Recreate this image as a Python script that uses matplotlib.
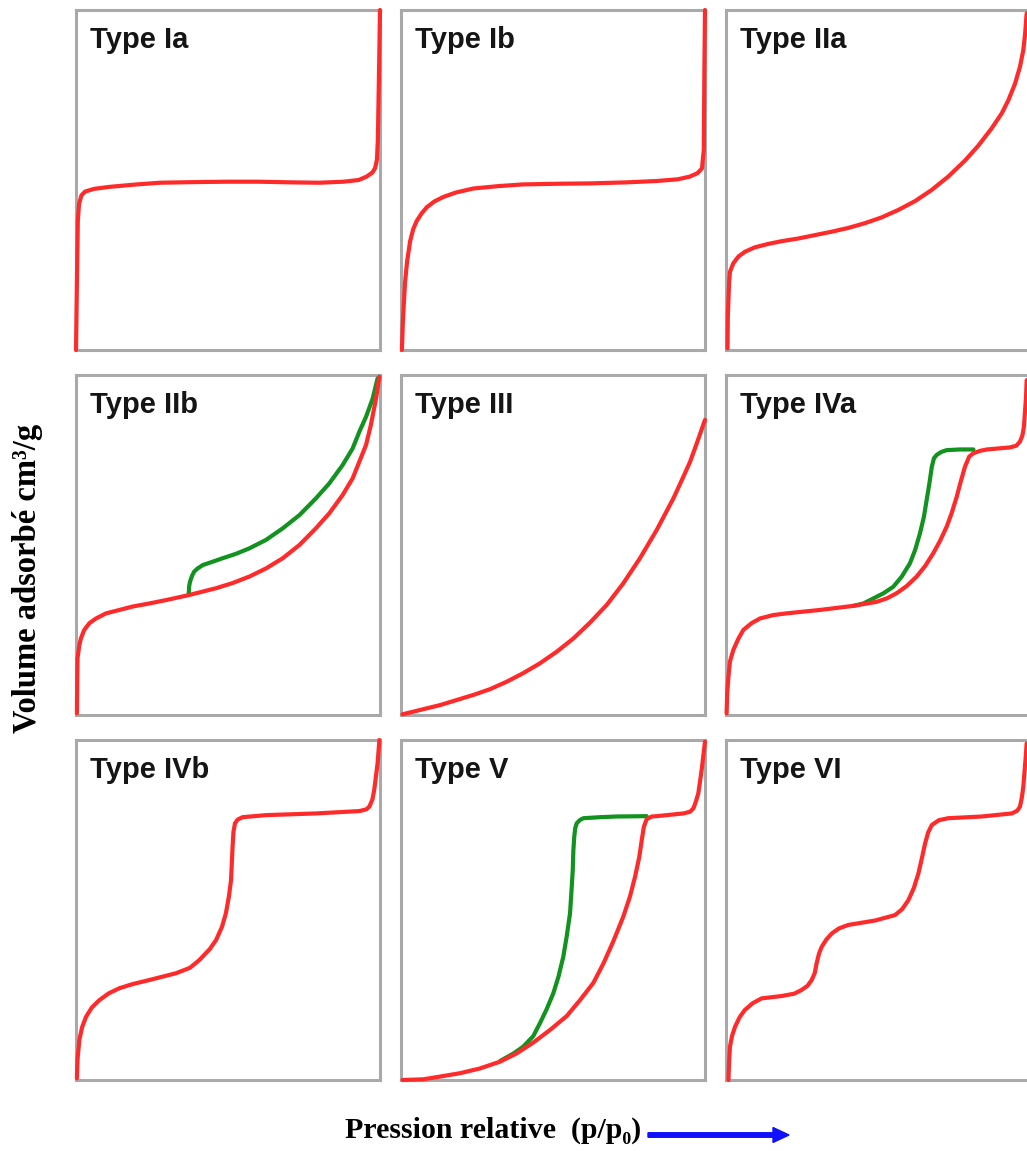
import matplotlib.pyplot as plt
from matplotlib.patches import FancyArrow

# isotherm curves, in relative units (0..1) of each panel
ia_x = [0, 0.003, 0.006, 0.01, 0.018, 0.03, 0.06, 0.112, 0.2, 0.276, 0.4, 0.496, 0.6, 0.714, 0.8, 0.88, 0.93, 0.956, 0.975, 0.984, 0.99, 0.993, 0.997, 1.0]
ia_y = [0, 0.2, 0.38, 0.43, 0.455, 0.466, 0.474, 0.48, 0.487, 0.492, 0.494, 0.495, 0.495, 0.493, 0.492, 0.495, 0.50, 0.51, 0.522, 0.535, 0.56, 0.62, 0.83, 1.0]

ib_x = [0.003, 0.006, 0.013, 0.02, 0.03, 0.04, 0.052, 0.068, 0.085, 0.11, 0.139, 0.18, 0.238, 0.32, 0.40, 0.52, 0.62, 0.74, 0.84, 0.91, 0.95, 0.975, 0.99, 0.996, 0.998, 1.0]
ib_y = [0, 0.08, 0.196, 0.26, 0.32, 0.355, 0.38, 0.402, 0.42, 0.437, 0.45, 0.463, 0.475, 0.482, 0.487, 0.489, 0.49, 0.493, 0.497, 0.502, 0.51, 0.52, 0.534, 0.588, 0.83, 1.0]

iia_x = [0.005, 0.006, 0.01, 0.013, 0.024, 0.041, 0.0625, 0.095, 0.139, 0.183, 0.238, 0.293, 0.348, 0.402, 0.457, 0.512, 0.567, 0.622, 0.677, 0.731, 0.786, 0.830, 0.874, 0.907, 0.929, 0.951, 0.967, 0.978, 0.984, 0.989]
iia_y = [0.005, 0.098, 0.196, 0.23, 0.255, 0.275, 0.289, 0.302, 0.312, 0.32, 0.328, 0.338, 0.348, 0.359, 0.373, 0.39, 0.412, 0.438, 0.471, 0.51, 0.557, 0.601, 0.652, 0.696, 0.735, 0.784, 0.833, 0.882, 0.931, 0.99]

iib_red_x = [0.003, 0.004, 0.005, 0.011, 0.016, 0.027, 0.044, 0.066, 0.099, 0.143, 0.186, 0.241, 0.296, 0.373, 0.417, 0.461, 0.515, 0.570, 0.625, 0.68, 0.735, 0.789, 0.833, 0.877, 0.91, 0.932, 0.954, 0.970, 0.987, 0.998]
iib_red_y = [0.005, 0.098, 0.167, 0.206, 0.225, 0.25, 0.27, 0.284, 0.299, 0.309, 0.319, 0.328, 0.338, 0.353, 0.363, 0.373, 0.388, 0.407, 0.431, 0.461, 0.5, 0.549, 0.593, 0.647, 0.696, 0.745, 0.794, 0.853, 0.931, 0.995]
iib_green_x = [0.371, 0.372, 0.375, 0.382, 0.389, 0.4, 0.417, 0.45, 0.482, 0.526, 0.570, 0.625, 0.68, 0.735, 0.789, 0.833, 0.877, 0.91, 0.932, 0.954, 0.976, 0.992]
iib_green_y = [0.355, 0.377, 0.392, 0.41, 0.422, 0.431, 0.441, 0.451, 0.461, 0.474, 0.49, 0.515, 0.549, 0.588, 0.637, 0.681, 0.735, 0.784, 0.833, 0.877, 0.931, 0.99]

iii_x = [0.005, 0.073, 0.128, 0.183, 0.238, 0.293, 0.348, 0.402, 0.457, 0.512, 0.567, 0.622, 0.677, 0.731, 0.786, 0.841, 0.896, 0.929, 0.951, 0.973, 1.0]
iii_y = [0.002, 0.017, 0.029, 0.044, 0.059, 0.076, 0.098, 0.123, 0.152, 0.186, 0.225, 0.272, 0.324, 0.387, 0.461, 0.544, 0.637, 0.701, 0.745, 0.799, 0.868]

iva_red_x = [0.002, 0.004, 0.008, 0.013, 0.024, 0.041, 0.057, 0.084, 0.112, 0.156, 0.2, 0.309, 0.419, 0.496, 0.529, 0.561, 0.594, 0.627, 0.655, 0.682, 0.704, 0.726, 0.742, 0.759, 0.772, 0.786, 0.8, 0.814, 0.836, 0.858, 0.934, 0.955, 0.967, 0.975, 0.98, 0.987, 0.989]
iva_red_y = [0.005, 0.064, 0.113, 0.157, 0.191, 0.225, 0.25, 0.27, 0.284, 0.294, 0.299, 0.309, 0.321, 0.333, 0.343, 0.358, 0.379, 0.407, 0.438, 0.476, 0.512, 0.554, 0.593, 0.642, 0.686, 0.730, 0.76, 0.77, 0.777, 0.781, 0.787, 0.792, 0.804, 0.822, 0.848, 0.936, 0.985]
iva_green_x = [0.419, 0.452, 0.485, 0.518, 0.55, 0.578, 0.605, 0.622, 0.638, 0.651, 0.66, 0.669, 0.677, 0.684, 0.693, 0.709, 0.726, 0.77, 0.814]
iva_green_y = [0.321, 0.328, 0.343, 0.358, 0.377, 0.407, 0.446, 0.485, 0.534, 0.583, 0.632, 0.681, 0.73, 0.755, 0.765, 0.774, 0.779, 0.781, 0.781]

ivb_x = [0.003, 0.005, 0.011, 0.02, 0.033, 0.052, 0.077, 0.108, 0.143, 0.186, 0.241, 0.285, 0.329, 0.375, 0.406, 0.44, 0.461, 0.48, 0.493, 0.503, 0.51, 0.515, 0.518, 0.523, 0.532, 0.548, 0.625, 0.789, 0.932, 0.955, 0.965, 0.975, 0.981, 0.992, 0.998]
ivb_y = [0.005, 0.06, 0.118, 0.155, 0.186, 0.213, 0.235, 0.255, 0.27, 0.282, 0.294, 0.304, 0.314, 0.33, 0.353, 0.385, 0.412, 0.45, 0.49, 0.54, 0.588, 0.686, 0.73, 0.755, 0.766, 0.773, 0.779, 0.784, 0.791, 0.796, 0.804, 0.825, 0.853, 0.931, 1.0]

v_red_x = [0.005, 0.073, 0.128, 0.194, 0.26, 0.326, 0.38, 0.435, 0.49, 0.545, 0.589, 0.633, 0.666, 0.698, 0.731, 0.753, 0.77, 0.784, 0.792, 0.799, 0.808, 0.825, 0.841, 0.929, 0.951, 0.962, 0.970, 0.978, 0.989, 1.0]
v_red_y = [0, 0.002, 0.01, 0.02, 0.034, 0.054, 0.078, 0.11, 0.147, 0.188, 0.235, 0.286, 0.343, 0.407, 0.48, 0.539, 0.598, 0.657, 0.706, 0.745, 0.767, 0.775, 0.776, 0.784, 0.789, 0.799, 0.819, 0.843, 0.912, 0.995]
v_green_x = [0.326, 0.37, 0.402, 0.435, 0.457, 0.479, 0.501, 0.518, 0.534, 0.545, 0.556, 0.561, 0.565, 0.567, 0.570, 0.573, 0.578, 0.589, 0.6, 0.655, 0.709, 0.808]
v_green_y = [0.056, 0.078, 0.098, 0.129, 0.167, 0.208, 0.255, 0.304, 0.363, 0.422, 0.49, 0.559, 0.618, 0.676, 0.716, 0.74, 0.755, 0.765, 0.77, 0.773, 0.775, 0.776]

vi_x = [0.008, 0.01, 0.013, 0.02, 0.03, 0.045, 0.062, 0.088, 0.117, 0.183, 0.225, 0.249, 0.268, 0.282, 0.292, 0.298, 0.306, 0.315, 0.33, 0.348, 0.372, 0.402, 0.49, 0.556, 0.58, 0.6, 0.618, 0.633, 0.645, 0.655, 0.665, 0.677, 0.7, 0.731, 0.841, 0.94, 0.958, 0.967, 0.973, 0.978, 0.986, 0.989]
vi_y = [0, 0.05, 0.098, 0.13, 0.157, 0.185, 0.206, 0.226, 0.24, 0.247, 0.254, 0.265, 0.277, 0.294, 0.315, 0.343, 0.372, 0.392, 0.413, 0.431, 0.446, 0.456, 0.469, 0.485, 0.503, 0.529, 0.565, 0.608, 0.655, 0.696, 0.728, 0.75, 0.764, 0.77, 0.775, 0.784, 0.792, 0.804, 0.83, 0.863, 0.951, 0.99]

titles = ["Type Ia", "Type Ib", "Type IIa",
          "Type IIb", "Type III", "Type IVa",
          "Type IVb", "Type V", "Type VI"]
red_curves = [(ia_x, ia_y), (ib_x, ib_y), (iia_x, iia_y),
              (iib_red_x, iib_red_y), (iii_x, iii_y), (iva_red_x, iva_red_y),
              (ivb_x, ivb_y), (v_red_x, v_red_y), (vi_x, vi_y)]
green_curves = {3: (iib_green_x, iib_green_y),
                5: (iva_green_x, iva_green_y),
                7: (v_green_x, v_green_y)}

RED = "#ff2b2b"
GREEN = "#12921e"
W, H = 1027, 1151

fig = plt.figure(figsize=(W / 100, H / 100), dpi=100)

col_left = [76, 401, 726]
row_top = [10, 375, 740]
pw, ph = 304, 340

for i, title in enumerate(titles):
    r, c = divmod(i, 3)
    ax = fig.add_axes([col_left[c] / W, 1 - (row_top[r] + ph) / H, pw / W, ph / H])
    ax.set_xlim(0, 1)
    ax.set_ylim(0, 1)
    ax.set_xticks([])
    ax.set_yticks([])
    for sp in ax.spines.values():
        sp.set_color("#a9a9a9")
        sp.set_linewidth(2.2)
    if i in green_curves:
        gx, gy = green_curves[i]
        ax.plot(gx, gy, color=GREEN, lw=3, solid_capstyle="round",
                solid_joinstyle="round", clip_on=False, zorder=3)
    rx, ry = red_curves[i]
    ax.plot(rx, ry, color=RED, lw=3, solid_capstyle="round",
            solid_joinstyle="round", clip_on=False, zorder=4)
    ax.text(0.045, 0.953, title, transform=ax.transAxes, ha="left", va="top",
            fontsize=21, fontweight="bold", family="Liberation Sans", color="#151515")

serif = ["Liberation Serif", "DejaVu Serif"]
fig.text(28 / W, 1 - 578 / H, "Volume adsorbé cm³/g", rotation=90, ha="center",
         va="center", fontsize=23.5, fontweight="bold", family=serif)
fig.text(345 / W, 1 - 1130 / H, "Pression relative  (p/p₀)", ha="left",
         va="center", fontsize=21.5, fontweight="bold", family=serif)
fig.patches.append(FancyArrow(
    648 / W, 1 - 1135 / H, 125 / W, 0, width=4.5 / H, head_width=15 / H,
    head_length=16 / W, length_includes_head=False, color="#1010ff",
    transform=fig.transFigure, figure=fig))

fig.savefig("out.png", dpi=100)
